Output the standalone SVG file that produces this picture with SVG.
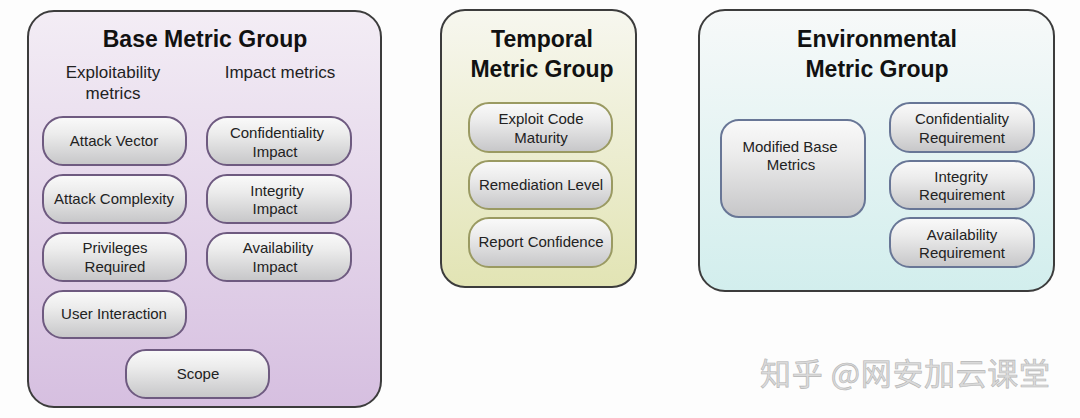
<svg xmlns="http://www.w3.org/2000/svg" width="1080" height="418" viewBox="0 0 1080 418">
<defs>
<linearGradient id="gBase" x1="0" y1="0" x2="0" y2="1"><stop offset="0" stop-color="#f3edf5"/><stop offset="1" stop-color="#d6bfe0"/></linearGradient>
<linearGradient id="gTemp" x1="0" y1="0" x2="0" y2="1"><stop offset="0" stop-color="#f7f7ef"/><stop offset="1" stop-color="#e2e4b4"/></linearGradient>
<linearGradient id="gEnv" x1="0" y1="0" x2="0" y2="1"><stop offset="0" stop-color="#f7f9f9"/><stop offset="1" stop-color="#d2eeed"/></linearGradient>
<linearGradient id="gNode" x1="0" y1="0" x2="0" y2="1"><stop offset="0" stop-color="#fafafa"/><stop offset="0.35" stop-color="#ececec"/><stop offset="1" stop-color="#c6c6c8"/></linearGradient>
</defs>
<style>
.grp{stroke:#3c3c3c;stroke-width:2}
.nb{fill:url(#gNode);stroke:#6e5a80;stroke-width:2}
.nt{fill:url(#gNode);stroke:#9a9a62;stroke-width:2}
.ne{fill:url(#gNode);stroke:#687696;stroke-width:2}
.title{font-family:"Liberation Sans",Arial,sans-serif;font-weight:bold;font-size:23px;fill:#111;text-anchor:middle}
.sub{font-family:"Liberation Sans",Arial,sans-serif;font-size:17px;fill:#222;text-anchor:middle}
.lbl{font-family:"Liberation Sans",Arial,sans-serif;font-size:15px;fill:#222;text-anchor:middle}
.wm{font-family:"Noto Sans CJK SC","Liberation Sans",sans-serif;font-size:31px;fill:#dadada;stroke:#b4b4b4;stroke-width:0.6}
</style>
<rect width="1080" height="418" fill="#fdfdfd"/>

<g id="base-group">
<rect class="grp" x="28" y="11" width="353" height="396" rx="26" fill="url(#gBase)"/>
<text class="title" x="205" y="47">Base Metric Group</text>
<text class="sub" x="113" y="78">Exploitability</text>
<text class="sub" x="113" y="99">metrics</text>
<text class="sub" x="280" y="78">Impact metrics</text>
</g>
<g id="attack-vector"><rect class="nb" x="43" y="117" width="143" height="48" rx="20"/><text class="lbl" x="114" y="146">Attack Vector</text></g>
<g id="attack-complexity"><rect class="nb" x="43" y="175" width="143" height="48" rx="20"/><text class="lbl" x="114" y="204">Attack Complexity</text></g>
<g id="privileges-required"><rect class="nb" x="43" y="233" width="143" height="48" rx="20"/><text class="lbl" x="115" y="253">Privileges</text><text class="lbl" x="115" y="272">Required</text></g>
<g id="user-interaction"><rect class="nb" x="43" y="291" width="143" height="47" rx="20"/><text class="lbl" x="114" y="319">User Interaction</text></g>
<g id="confidentiality-impact"><rect class="nb" x="207" y="117" width="144" height="48" rx="20"/><text class="lbl" x="277" y="138">Confidentiality</text><text class="lbl" x="275" y="157">Impact</text></g>
<g id="integrity-impact"><rect class="nb" x="207" y="175" width="144" height="48" rx="20"/><text class="lbl" x="277" y="196">Integrity</text><text class="lbl" x="275" y="214">Impact</text></g>
<g id="availability-impact"><rect class="nb" x="207" y="233" width="144" height="48" rx="20"/><text class="lbl" x="278" y="253">Availability</text><text class="lbl" x="275" y="272">Impact</text></g>
<g id="scope"><rect class="nb" x="126" y="350" width="143" height="48" rx="20"/><text class="lbl" x="198" y="379">Scope</text></g>

<g id="temporal-group">
<rect class="grp" x="441" y="10" width="195" height="277" rx="24" fill="url(#gTemp)"/>
<text class="title" x="542" y="47">Temporal</text>
<text class="title" x="542" y="77">Metric Group</text>
</g>
<g id="exploit-code-maturity"><rect class="nt" x="469" y="103" width="143" height="49" rx="20"/><text class="lbl" x="541" y="124">Exploit Code</text><text class="lbl" x="541" y="143">Maturity</text></g>
<g id="remediation-level"><rect class="nt" x="469" y="161" width="143" height="48" rx="20"/><text class="lbl" x="541" y="190">Remediation Level</text></g>
<g id="report-confidence"><rect class="nt" x="469" y="218" width="143" height="49" rx="20"/><text class="lbl" x="541" y="247">Report Confidence</text></g>

<g id="environmental-group">
<rect class="grp" x="699" y="10" width="355" height="281" rx="26" fill="url(#gEnv)"/>
<text class="title" x="877" y="47">Environmental</text>
<text class="title" x="877" y="77">Metric Group</text>
</g>
<g id="modified-base-metrics"><rect class="ne" x="721" y="120" width="144" height="97" rx="18"/><text class="lbl" x="790" y="152">Modified Base</text><text class="lbl" x="791" y="170">Metrics</text></g>
<g id="confidentiality-requirement"><rect class="ne" x="890" y="103" width="144" height="49" rx="20"/><text class="lbl" x="962" y="124">Confidentiality</text><text class="lbl" x="962" y="143">Requirement</text></g>
<g id="integrity-requirement"><rect class="ne" x="890" y="161" width="144" height="48" rx="20"/><text class="lbl" x="961" y="182">Integrity</text><text class="lbl" x="962" y="200">Requirement</text></g>
<g id="availability-requirement"><rect class="ne" x="890" y="218" width="144" height="49" rx="20"/><text class="lbl" x="962" y="240">Availability</text><text class="lbl" x="962" y="258">Requirement</text></g>

<g id="connectors"></g>

<text class="wm" x="760" y="385" textLength="290" lengthAdjust="spacing">知乎 @网安加云课堂</text>
</svg>
